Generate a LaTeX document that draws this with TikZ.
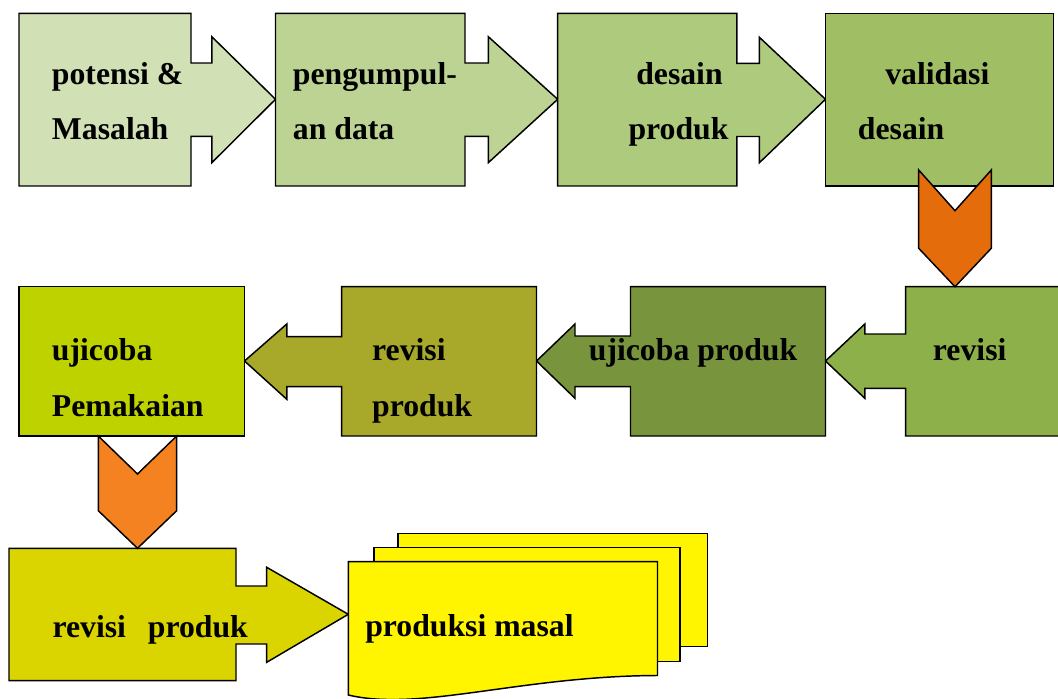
\documentclass[tikz,border=0pt]{standalone}
\usepackage{fontspec}
\setmainfont{Liberation Serif}
\usepackage{tikz}

\definecolor{potensi}{HTML}{D1E0B5}
\definecolor{kumpul}{HTML}{BDD393}
\definecolor{desain}{HTML}{AECA7D}
\definecolor{validasi}{HTML}{A0BE63}
\definecolor{revisiA}{HTML}{8DB04B}
\definecolor{ujiprod}{HTML}{78943D}
\definecolor{revisiB}{HTML}{A8A82B}
\definecolor{ujipakai}{HTML}{BED200}
\definecolor{revisiC}{HTML}{DAD500}
\definecolor{masal}{HTML}{FFF500}
\definecolor{chevA}{HTML}{E46C0A}
\definecolor{chevB}{HTML}{F58220}

\tikzset{
  stage/.style={draw=black, line width=1.1pt, line join=miter},
  chev/.style={draw=black, line width=1.1pt, line join=miter},
  lbl/.style={anchor=base west, inner sep=0pt,
    font=\fontsize{23.8}{28}\selectfont\bfseries},
}

\begin{document}
\begin{tikzpicture}[x=0.75pt,y=-0.75pt]
      \useasboundingbox (0,0) rectangle (1058,699);
      %% First row, arrows to the right
      \draw[stage,fill=potensi] (19,13.3) -- (191,13.3) -- (191,63) -- (211.8,63) -- (211.8,36.7)
        -- (275.5,99.3) -- (211.8,162.7) -- (211.8,136.3) -- (191,136.3) -- (191,186) -- (19,186) -- cycle;
      \draw[stage,fill=kumpul] (275.5,13.3) -- (465,13.3) -- (465,63) -- (488.3,63) -- (488.3,36.7)
        -- (557.7,99.3) -- (488.3,162.7) -- (488.3,136.3) -- (465,136.3) -- (465,186) -- (275.5,186) -- cycle;
      \draw[stage,fill=desain] (557.7,13.3) -- (736.8,13.3) -- (736.8,63.3) -- (759.4,63.3) -- (759.4,37.3)
        -- (825.5,99.3) -- (759.4,162.7) -- (759.4,136.5) -- (736.8,136.5) -- (736.8,186) -- (557.7,186) -- cycle;
      \draw[stage,fill=validasi] (825.5,13.3) rectangle (1053.5,186);
      %% Second row, arrows to the left
      \draw[stage,fill=revisiA] (1064,286.7) -- (905.7,286.7) -- (905.7,334) -- (864.8,334) -- (864.8,324)
        -- (825.5,361) -- (864.8,398.3) -- (864.8,388.3) -- (905.7,388.3) -- (905.7,436) -- (1064,436) -- cycle;
      \draw[stage,fill=ujiprod] (825.5,286.7) -- (630.5,286.7) -- (630.5,336) -- (575,336) -- (575,324)
        -- (536.5,361) -- (575,398.3) -- (575,386.7) -- (630.5,386.7) -- (630.5,436) -- (825.5,436) -- cycle;
      \draw[stage,fill=revisiB] (536.5,286.7) -- (341.6,286.7) -- (341.6,336.7) -- (286.8,336.7) -- (286.8,324)
        -- (244.5,361) -- (286.8,399.3) -- (286.8,386.7) -- (341.6,386.7) -- (341.6,436) -- (536.5,436) -- cycle;
      \draw[stage,fill=ujipakai] (18.9,286.7) rectangle (244.5,436);
      %% Third row
      \draw[stage,fill=revisiC] (9,548.3) -- (236,548.3) -- (236,586) -- (266.7,586) -- (266.7,567.3)
        -- (348.3,614.3) -- (266.7,662.3) -- (266.7,644) -- (236,644) -- (236,680.7) -- (9,680.7) -- cycle;
      \draw[stage,fill=masal] (398,533.3) rectangle (707.3,646.7);
      \draw[stage,fill=masal] (374,547.3) rectangle (680,661.7);
      \draw[stage,fill=masal] (348.3,561.7) -- (657.5,561.7) -- (657.5,675.5)
        .. controls (520,676) and (420,712) .. (348.3,695) -- cycle;
      %% Down arrows
      \draw[chev,fill=chevA] (918.7,170) -- (955,210.7) -- (991.3,170) -- (991.3,248.3)
        -- (955,286.7) -- (918.7,248.3) -- cycle;
      \draw[chev,fill=chevB] (98.3,436) -- (137.5,474) -- (176.7,436) -- (176.7,510.7)
        -- (137.5,548.3) -- (98.3,510.7) -- cycle;
      %% Labels
      \node[lbl] (potensi) at (51.7,85) {potensi \&};
      \node[lbl] (masalah) at (51.7,140) {Masalah};
      \node[lbl] (kumpulA) at (292.7,85) {pengumpul-};
      \node[lbl] (kumpulB) at (292.7,140) {an data};
      \node[lbl] (desainA) at (636,85) {desain};
      \node[lbl] (desainB) at (628.3,139.5) {produk};
      \node[lbl] (validA) at (885,85) {validasi};
      \node[lbl] (validB) at (857.7,139.5) {desain};
      \node[lbl] (revisiA) at (932.7,360.5) {revisi};
      \node[lbl] (ujiprod) at (588.6,360.7) {ujicoba produk};
      \node[lbl] (revisiBa) at (371.9,360.7) {revisi};
      \node[lbl] (revisiBb) at (371.9,416.7) {produk};
      \node[lbl] (ujipakaiA) at (51.7,360.7) {ujicoba};
      \node[lbl] (ujipakaiB) at (51.7,416.7) {Pemakaian};
      \node[lbl] (revisiC) at (52.3,637.3) {revisi\hspace{16.4pt}produk};
      \node[lbl] (masal) at (365,636.5) {produksi masal};
\end{tikzpicture}
\end{document}
